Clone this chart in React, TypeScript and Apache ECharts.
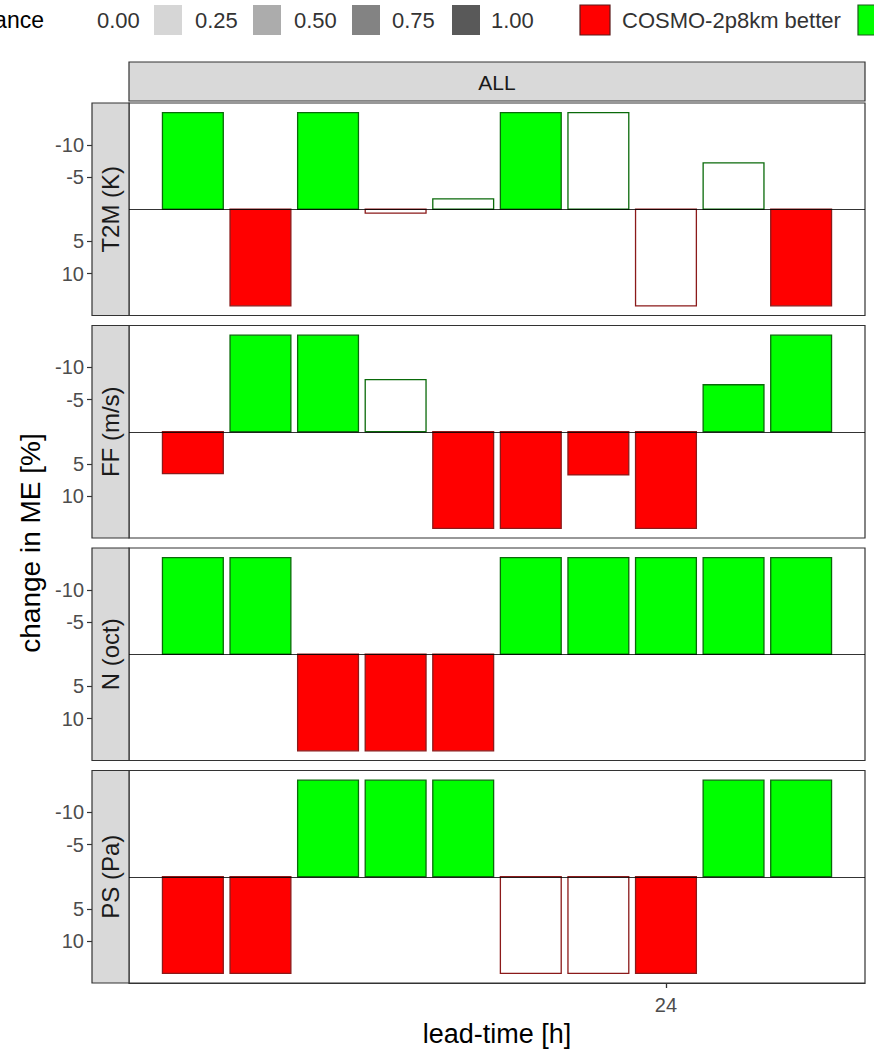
import React, { useEffect, useRef } from "react";
import * as echarts from "echarts";

const leadTimes = [3, 6, 9, 12, 15, 18, 21, 24, 27, 30];
const variables = ["T2M (K)", "FF (m/s)", "N (oct)", "PS (Pa)"];

const t2mValues = [-15, 15, -15, 0.6, -1.6, -15, -15, 15, -7.2, 15];
const t2mSignif = [1, 1, 1, 0, 0, 1, 0, 0, 0, 1];
const ffValues = [6.5, -15, -15, -8.1, 15, 15, 6.7, 15, -7.3, -15];
const ffSignif = [1, 1, 1, 0, 1, 1, 1, 1, 1, 1];
const nValues = [-15, -15, 15, 15, 15, -15, -15, -15, -15, -15];
const nSignif = [1, 1, 1, 1, 1, 1, 1, 1, 1, 1];
const psValues = [15, 15, -15, -15, -15, 15, 15, 15, -15, -15];
const psSignif = [1, 1, 1, 1, 1, 0, 0, 1, 1, 1];

const yTicks = [-10, -5, 5, 10];
const xTicks = [24];
const signifLevels = ["0.00", "0.25", "0.50", "0.75", "1.00"];
const facetLabel = "ALL";
const yTitle = "change in ME [%]";
const xTitle = "lead-time [h]";
const legendTitle = "significance";
const betterLabel = "COSMO-2p8km better";

const panelValues = [t2mValues, ffValues, nValues, psValues];
const panelSignif = [t2mSignif, ffSignif, nSignif, psSignif];

const FONT = "Liberation Sans, Arial, Helvetica, sans-serif";
const GREEN = "0,255,0";
const RED = "255,0,0";
const GREEN_LINE = "#0a6a0a";
const RED_LINE = "#8b1a1a";

const PANEL_LEFT = 129;
const PANEL_WIDTH = 736;
const PANEL_TOPS = [103, 325.5, 548, 770.5];
const PANEL_HEIGHT = 212.5;
const STRIP_W = 37;
const BAR_HALF = 1.35;
const X_MIN = 0.165;
const X_MAX = 32.835;

export default function App() {
  const ref = useRef<HTMLDivElement>(null);

  useEffect(() => {
    if (!ref.current) return;
    const chart = echarts.init(ref.current, null, { renderer: "svg" });

    const grids = PANEL_TOPS.map((top) => ({
      left: PANEL_LEFT,
      top,
      width: PANEL_WIDTH,
      height: PANEL_HEIGHT,
      show: true,
      backgroundColor: "#ffffff",
      borderColor: "#333333",
      borderWidth: 1.2,
    }));

    const xAxes = PANEL_TOPS.map((_, i) => ({
      type: "value",
      gridIndex: i,
      min: X_MIN,
      max: X_MAX,
      show: i === 3,
      position: "bottom",
      axisLine: { show: true, onZero: false, lineStyle: { color: "#333333", width: 1.2 } },
      splitLine: { show: false },
      axisTick: {
        show: true,
        inside: false,
        customValues: xTicks,
        length: 5,
        lineStyle: { color: "#333333", width: 1.3 },
      },
      axisLabel: {
        show: true,
        customValues: xTicks,
        fontSize: 20,
        fontFamily: FONT,
        color: "#4d4d4d",
        margin: 12,
      },
    }));

    const yAxes = PANEL_TOPS.map((_, i) => ({
      type: "value",
      gridIndex: i,
      min: -16.5,
      max: 16.5,
      inverse: true,
      position: "left",
      offset: STRIP_W,
      axisLine: { show: false },
      splitLine: { show: false },
      axisTick: {
        show: true,
        customValues: yTicks,
        length: 5,
        lineStyle: { color: "#333333", width: 1.2 },
      },
      axisLabel: {
        show: true,
        customValues: yTicks,
        fontSize: 20,
        fontFamily: FONT,
        color: "#4d4d4d",
        margin: 8,
      },
    }));

    const series = panelValues.map((vals, i) => ({
      type: "custom",
      xAxisIndex: i,
      yAxisIndex: i,
      data: vals.map((v, k) => [leadTimes[k], v, panelSignif[i][k]]),
      renderItem: (params: any, api: any) => {
        const x = api.value(0);
        const y = api.value(1);
        const s = api.value(2);
        const p0 = api.coord([x - BAR_HALF, 0]);
        const p1 = api.coord([x + BAR_HALF, y]);
        const neg = y < 0;
        return {
          type: "rect",
          shape: {
            x: Math.min(p0[0], p1[0]),
            y: Math.min(p0[1], p1[1]),
            width: Math.abs(p1[0] - p0[0]),
            height: Math.abs(p1[1] - p0[1]),
          },
          style: {
            fill: `rgba(${neg ? GREEN : RED},${s})`,
            stroke: neg ? GREEN_LINE : RED_LINE,
            lineWidth: 1.3,
          },
        };
      },
      markLine: {
        silent: true,
        symbol: "none",
        label: { show: false },
        lineStyle: { color: "#000000", width: 0.8, type: "solid" },
        data: [{ yAxis: 0 }],
      },
      z: 2,
    }));

    const graphics: any[] = [];
    graphics.push({
      type: "rect",
      shape: { x: PANEL_LEFT, y: 62, width: PANEL_WIDTH, height: 39 },
      style: { fill: "#d9d9d9", stroke: "#333333", lineWidth: 1.2 },
    });
    graphics.push({
      type: "text",
      x: PANEL_LEFT + PANEL_WIDTH / 2,
      y: 82,
      style: {
        text: facetLabel,
        fontSize: 21,
        fontFamily: FONT,
        fill: "#1a1a1a",
        align: "center",
        verticalAlign: "middle",
      },
    });
    PANEL_TOPS.forEach((top, i) => {
      graphics.push({
        type: "rect",
        shape: { x: PANEL_LEFT - STRIP_W, y: top, width: STRIP_W, height: PANEL_HEIGHT },
        style: { fill: "#d9d9d9", stroke: "#333333", lineWidth: 1.2 },
      });
      graphics.push({
        type: "text",
        x: PANEL_LEFT - STRIP_W / 2,
        y: top + PANEL_HEIGHT / 2,
        rotation: Math.PI / 2,
        style: {
          text: variables[i],
          fontSize: 24,
          fontFamily: FONT,
          fill: "#1a1a1a",
          align: "center",
          verticalAlign: "middle",
        },
      });
    });
    graphics.push({
      type: "text",
      x: 30,
      y: 543,
      rotation: Math.PI / 2,
      style: {
        text: yTitle,
        fontSize: 28,
        fontFamily: FONT,
        fill: "#000000",
        align: "center",
        verticalAlign: "middle",
      },
    });
    graphics.push({
      type: "text",
      x: PANEL_LEFT + PANEL_WIDTH / 2,
      y: 1034,
      style: {
        text: xTitle,
        fontSize: 27,
        fontFamily: FONT,
        fill: "#000000",
        align: "center",
        verticalAlign: "middle",
      },
    });
    graphics.push({
      type: "text",
      x: 44,
      y: 20,
      style: {
        text: legendTitle,
        fontSize: 23,
        fontFamily: FONT,
        fill: "#000000",
        align: "right",
        verticalAlign: "middle",
      },
    });
    const keyX = [56, 154, 253, 352, 452];
    const labelX = [97, 195, 294, 392, 491];
    signifLevels.forEach((lab, k) => {
      const a = parseFloat(lab);
      const g = Math.round(255 - a * (255 - 89));
      graphics.push({
        type: "rect",
        shape: { x: keyX[k], y: 5, width: 28, height: 30 },
        style: { fill: `rgb(${g},${g},${g})` },
      });
      graphics.push({
        type: "text",
        x: labelX[k],
        y: 20,
        style: {
          text: lab,
          fontSize: 22,
          fontFamily: FONT,
          fill: "#333333",
          align: "left",
          verticalAlign: "middle",
        },
      });
    });
    graphics.push({
      type: "rect",
      shape: { x: 580, y: 5, width: 30, height: 30 },
      style: { fill: "rgb(255,0,0)", stroke: "#5a1a1a", lineWidth: 1.2 },
    });
    graphics.push({
      type: "text",
      x: 622,
      y: 20,
      style: {
        text: betterLabel,
        fontSize: 22,
        fontFamily: FONT,
        fill: "#333333",
        align: "left",
        verticalAlign: "middle",
      },
    });
    graphics.push({
      type: "rect",
      shape: { x: 858, y: 5, width: 30, height: 30 },
      style: { fill: "rgb(0,255,0)", stroke: "#1a5a1a", lineWidth: 1.2 },
    });

    chart.setOption({
      animation: false,
      backgroundColor: "#ffffff",
      grid: grids,
      xAxis: xAxes,
      yAxis: yAxes,
      series,
      graphic: graphics,
    });

    return () => chart.dispose();
  }, []);

  return (
    <div
      ref={ref}
      style={{ position: "absolute", left: 0, top: 0, width: 874, height: 1054 }}
    />
  );
}
